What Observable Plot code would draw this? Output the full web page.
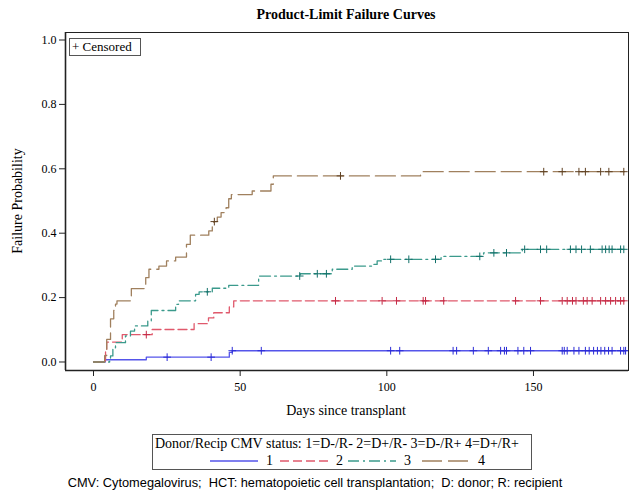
<!DOCTYPE html>
<html>
<head>
<meta charset="utf-8">
<script src="https://cdn.jsdelivr.net/npm/d3@7"></script>
<script src="https://cdn.jsdelivr.net/npm/@observablehq/plot@0.6"></script>
<style>
  html, body { margin: 0; padding: 0; background: #fff; }
  #wrap { position: relative; width: 629px; height: 494px; overflow: hidden; font-family: "Liberation Serif", serif; }
  #wrap svg { position: absolute; left: 0; top: 0; }
  .abs { position: absolute; white-space: nowrap; }
</style>
</head>
<body>
<div id="wrap"></div>
<script>
// ---- Data ----
const groups = ["1", "2", "3", "4"];
const groupLabels = ["1=D-/R-", "2=D+/R-", "3=D-/R+", "4=D+/R+"];
const xTicks = [0, 50, 100, 150];
const yTicks = [0, 0.2, 0.4, 0.6, 0.8, 1.0];

const times1 = [0, 4, 18, 46.3, 47.3, 181.4];
const probs1 = [0, 0.007, 0.015, 0.03, 0.035, 0.035];
const cens1 = [25.1, 40.1, 47.3, 57.2, 101.3, 104.4, 122.6, 123.8, 129.5, 134.6, 138.8, 140.1, 140.8, 144.7, 146.7, 149, 159.8, 160.5, 161.5, 163.8, 165.5, 167.7, 169, 170.5, 171.8, 173, 174.3, 175.6, 176.8, 179.7, 180.8, 181.4];

const times2 = [0, 4.1, 4.5, 9.8, 20, 34.3, 39.2, 41, 46.3, 47.8, 181];
const probs2 = [0, 0.034, 0.062, 0.085, 0.101, 0.119, 0.137, 0.153, 0.171, 0.19, 0.19];
const cens2 = [18, 82.5, 98.4, 103.3, 112.4, 113.2, 119.4, 143.9, 152.4, 159.8, 161.5, 163.3, 164.5, 167, 168.3, 170, 172.9, 174.6, 176.3, 178, 179.7, 180.8];

const times3 = [0, 5.5, 5.8, 6.6, 7.5, 10.9, 12.6, 14, 18.5, 19.7, 28, 29, 34.8, 36, 40.5, 46.1, 56.3, 70.5, 81.4, 88.2, 95, 96.7, 98.4, 118.5, 133, 146.2, 181];
const probs3 = [0, 0.01, 0.019, 0.044, 0.06, 0.081, 0.096, 0.112, 0.127, 0.16, 0.179, 0.19, 0.21, 0.218, 0.229, 0.238, 0.267, 0.274, 0.288, 0.298, 0.303, 0.314, 0.319, 0.328, 0.339, 0.35, 0.35];
const cens3 = [38.8, 70.3, 76.3, 79.4, 101.3, 107.5, 116.6, 131.7, 136.5, 140.8, 147, 152.4, 154.5, 162.6, 164.5, 166.4, 169.4, 173.4, 174.6, 175.8, 176.8, 179.7, 180.8];

const times4 = [0, 3.8, 4.5, 5.8, 6.9, 7.5, 8, 12.9, 17.8, 18.9, 22.3, 24.9, 28, 31.7, 33, 39.3, 40.5, 41, 42.2, 43.5, 45.2, 46.1, 47, 54.1, 60.5, 61.3, 111.5, 181];
const probs4 = [0, 0.02, 0.07, 0.134, 0.16, 0.18, 0.19, 0.228, 0.262, 0.288, 0.298, 0.314, 0.326, 0.365, 0.394, 0.407, 0.42, 0.436, 0.45, 0.464, 0.479, 0.507, 0.52, 0.531, 0.552, 0.578, 0.591, 0.591];
const cens4 = [41.2, 84.2, 153.5, 159.8, 165.5, 167.7, 172.9, 175.7, 180.8];

// ---- styles ----
const lineColors = ["#5555ea", "#e0596c", "#3b9a8c", "#a0805e"];
const markColors = ["#2a2ad6", "#c52a45", "#12706a", "#5e3f20"];
const dashes = [null, "9,4", "11,4,2,4", "20,6"];

const allTimes = [times1, times2, times3, times4];
const allProbs = [probs1, probs2, probs3, probs4];
const allCens = [cens1, cens2, cens3, cens4];

const curves = groups.map((g, i) => allTimes[i].map((t, j) => ({group: g, t, p: allProbs[i][j]})));
function stepAt(i, t) {
  const ts = allTimes[i], ps = allProbs[i];
  let v = ps[0];
  for (let j = 0; j < ts.length; j++) if (ts[j] <= t) v = ps[j];
  return v;
}
const censored = groups.map((g, i) => allCens[i].map(t => ({group: g, t, p: stepAt(i, t)})));

const xMin = -9.55, xMax = 182.4, yMin = -0.0264, yMax = 1.0233;

const marks = [];
groups.forEach((g, i) => {
  marks.push(Plot.line(curves[i], {x: "t", y: "p", curve: "step-after", stroke: lineColors[i], strokeWidth: 1.3, strokeDasharray: dashes[i]}));
});
groups.forEach((g, i) => {
  marks.push(Plot.dot(censored[i], {x: "t", y: "p", symbol: "plus", r: 2.6, stroke: markColors[i], strokeWidth: 1}));
});
marks.push(Plot.frame({stroke: "#222", strokeWidth: 1}));
marks.push(Plot.ruleX([xMin], {stroke: "#222", strokeWidth: 1.6}));
marks.push(Plot.ruleY([yMin], {stroke: "#222", strokeWidth: 1.6}));
marks.push(Plot.axisY(yTicks, {tickFormat: d3.format(".1f"), tickSize: 6, tickPadding: 3, label: null, fontSize: 12, stroke: "#222"}));
marks.push(Plot.axisX(xTicks, {tickSize: 6, tickPadding: 6, label: null, fontSize: 12, stroke: "#222"}));

const svg = Plot.plot({
  width: 629,
  height: 425,
  marginTop: 32,
  marginBottom: 55,
  marginLeft: 65,
  marginRight: 1,
  x: {domain: [xMin, xMax]},
  y: {domain: [yMin, yMax]},
  style: {fontFamily: "Liberation Serif, serif", fontSize: "12px", color: "#000", background: "transparent"},
  marks
});

const wrap = document.getElementById("wrap");
wrap.appendChild(svg);

function addText(html, css) {
  const d = document.createElement("div");
  d.className = "abs";
  d.innerHTML = html;
  Object.assign(d.style, css);
  wrap.appendChild(d);
  return d;
}
// Title
addText("Product-Limit Failure Curves", {left: "346px", top: "7px", transform: "translateX(-50%)", fontWeight: "bold", fontSize: "14px"});
// Y label
addText("Failure Probability", {left: "18px", top: "201px", transform: "translate(-50%,-50%) rotate(-90deg)", fontSize: "14px"});
// X label
addText("Days since transplant", {left: "346px", top: "403px", transform: "translateX(-50%)", fontSize: "14px"});
// Censored box
addText("+ Censored", {left: "69px", top: "38px", width: "72px", height: "18px", border: "1px solid #555", fontSize: "13px", lineHeight: "16px", paddingLeft: "2px", boxSizing: "border-box"});

// Legend box
const leg = document.createElement("div");
leg.className = "abs";
Object.assign(leg.style, {left: "152px", top: "434px", width: "380px", height: "36px", border: "1px solid #555", boxSizing: "border-box"});
wrap.appendChild(leg);
const legTitle = document.createElement("div");
Object.assign(legTitle.style, {position: "absolute", left: "2px", top: "0px", fontSize: "14px", lineHeight: "17px", whiteSpace: "nowrap"});
legTitle.textContent = "Donor/Recip CMV status: " + groupLabels.join(" ");
leg.appendChild(legTitle);
const ns = "http://www.w3.org/2000/svg";
const lsvg = document.createElementNS(ns, "svg");
lsvg.setAttribute("width", "380"); lsvg.setAttribute("height", "36");
lsvg.style.position = "absolute"; lsvg.style.left = "-1px"; lsvg.style.top = "-1px";
const swX = [58, 128, 196, 270];
groups.forEach((g, i) => {
  const l = document.createElementNS(ns, "line");
  l.setAttribute("x1", swX[i]); l.setAttribute("x2", swX[i] + 48);
  l.setAttribute("y1", 27); l.setAttribute("y2", 27);
  l.setAttribute("stroke", lineColors[i]); l.setAttribute("stroke-width", 1.3);
  if (dashes[i]) l.setAttribute("stroke-dasharray", dashes[i]);
  lsvg.appendChild(l);
  const t = document.createElementNS(ns, "text");
  t.setAttribute("x", swX[i] + 56); t.setAttribute("y", 31);
  t.setAttribute("font-family", "Liberation Serif, serif"); t.setAttribute("font-size", 14);
  t.textContent = g;
  lsvg.appendChild(t);
});
leg.appendChild(lsvg);

// Caption
addText("CMV: Cytomegalovirus;&nbsp; HCT: hematopoietic cell transplantation;&nbsp; D: donor; R: recipient", {left: "315px", top: "475px", transform: "translateX(-50%)", fontFamily: "Liberation Sans, Arial, sans-serif", fontSize: "12.8px"});
</script>
</body>
</html>
